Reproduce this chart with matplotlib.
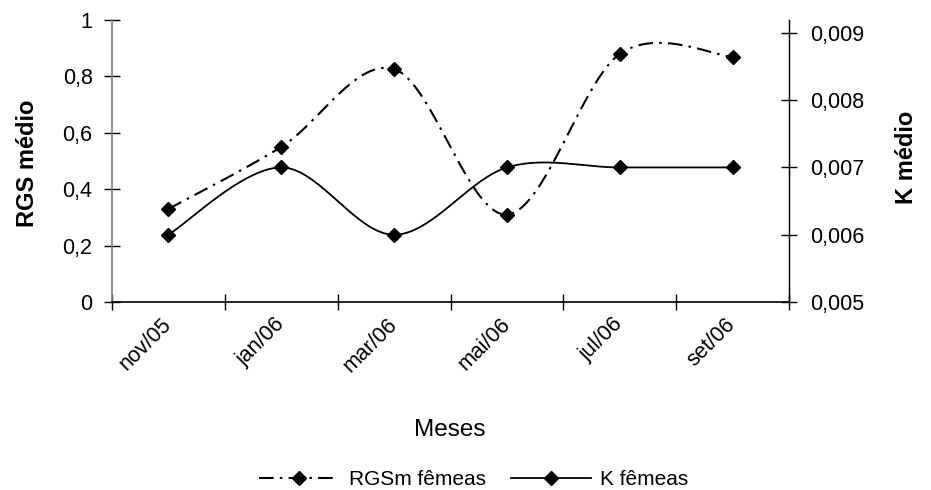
import numpy as np
import matplotlib
matplotlib.use("Agg")
import matplotlib.pyplot as plt
from matplotlib.lines import Line2D
from matplotlib.ticker import FuncFormatter
from matplotlib.transforms import ScaledTranslation

plt.rcParams['font.family'] = ['Liberation Sans', 'DejaVu Sans']

months = ["nov/05", "jan/06", "mar/06", "mai/06", "jul/06", "set/06"]
rgs_femeas = [0.33, 0.55, 0.826, 0.31, 0.88, 0.87]
k_femeas = [0.0060, 0.0070, 0.0060, 0.0070, 0.0070, 0.0070]
left_ticks = [0, 0.2, 0.4, 0.6, 0.8, 1.0]
right_ticks = [0.005, 0.006, 0.007, 0.008, 0.009]


def smooth(y, n=40):
    """Excel-like smoothed line (Catmull-Rom bezier, endpoints duplicated)."""
    x = np.arange(len(y), dtype=float)
    y = np.asarray(y, dtype=float)
    P = np.column_stack([x, y])
    out = []
    m = len(P)
    t = np.linspace(0, 1, n)[:, None]
    for i in range(m - 1):
        p0 = P[i - 1] if i > 0 else P[i]
        p1 = P[i]
        p2 = P[i + 1]
        p3 = P[i + 2] if i + 2 < m else P[i + 1]
        c1 = p1 + (p2 - p0) / 6.0
        c2 = p2 - (p3 - p1) / 6.0
        seg = ((1 - t) ** 3) * p1 + 3 * ((1 - t) ** 2) * t * c1 + 3 * (1 - t) * t ** 2 * c2 + t ** 3 * p2
        out.append(seg if i == 0 else seg[1:])
    s = np.vstack(out)
    return s[:, 0], s[:, 1]


fig = plt.figure(figsize=(9.31, 4.90), dpi=100)
ax = fig.add_axes([0.1203, 0.3837, 0.8475 - 0.1203, 0.959 - 0.3837])
ax2 = ax.twinx()

dashdot = (0, (7, 3, 1.2, 3))
ms = 7.5
xs, ys = smooth(rgs_femeas)
ax.plot(xs, ys, color='black', lw=1.5, linestyle=dashdot, zorder=3)
ax.plot(range(len(months)), rgs_femeas, linestyle='none', marker='D', ms=ms,
        color='black', zorder=4)

xk, yk = smooth(k_femeas)
ax2.plot(xk, yk, color='black', lw=1.3, zorder=3)
ax2.plot(range(len(months)), k_femeas, linestyle='none', marker='D', ms=ms,
         color='black', zorder=4)

ax.set_xlim(-0.5, len(months) - 0.5)
ax.set_ylim(0, 1.0)
ax2.set_ylim(0.005, 0.00919)

ax.set_yticks(left_ticks)
ax2.set_yticks(right_ticks)
fmt_l = FuncFormatter(lambda v, p: ('%g' % round(v, 3)).replace('.', ','))
fmt_r = FuncFormatter(lambda v, p: ('%.3f' % v).replace('.', ','))
ax.yaxis.set_major_formatter(fmt_l)
ax2.yaxis.set_major_formatter(fmt_r)

ax.set_xticks(range(len(months)))
ax.set_xticklabels(months, rotation=45, ha='right', va='center',
                   rotation_mode='anchor', fontsize=15.5)
shift = ScaledTranslation(4 / 100, 0, fig.dpi_scale_trans)
for lbl in ax.get_xticklabels():
    lbl.set_transform(lbl.get_transform() + shift)
ax.set_xticks(np.arange(-0.5, len(months), 1.0), minor=True)
ax.tick_params(axis='x', which='major', length=0, pad=14)
ax.tick_params(axis='x', which='minor', length=12, direction='inout', width=1)
ax.tick_params(axis='y', length=11, direction='inout', width=1, labelsize=15.5, pad=8.5)
ax2.tick_params(axis='y', length=11, direction='inout', width=1, labelsize=15.5, pad=9.5)

for a in (ax, ax2):
    a.spines['top'].set_visible(False)
ax.spines['left'].set_color('#808080')
ax.spines['left'].set_linewidth(1.2)
ax.spines['bottom'].set_linewidth(1.2)
ax2.spines['right'].set_linewidth(1.0)
ax2.spines['left'].set_visible(False)
ax2.spines['bottom'].set_visible(False)

fig.text(0.030, 0.667, 'RGS médio', fontsize=17, fontweight='bold',
         rotation=90, ha='center', va='center')
fig.text(0.9735, 0.678, 'K médio', fontsize=17, fontweight='bold',
         rotation=90, ha='center', va='center')
fig.text(0.4836, 0.1224, 'Meses', ha='center', va='center', fontsize=17.5)

handles = [
    Line2D([], [], color='black', lw=1.5, linestyle=dashdot, marker='D', ms=ms),
    Line2D([], [], color='black', lw=1.3, marker='D', ms=ms),
]
fig.legend(handles, ['RGSm fêmeas', 'K fêmeas'], loc='center',
           bbox_to_anchor=(0.509, 0.021), ncol=2, frameon=False,
           handlelength=3.85, handletextpad=0.45, columnspacing=1.2,
           numpoints=1, fontsize=15, borderpad=0.0)

fig.savefig('out.png', dpi=100)
